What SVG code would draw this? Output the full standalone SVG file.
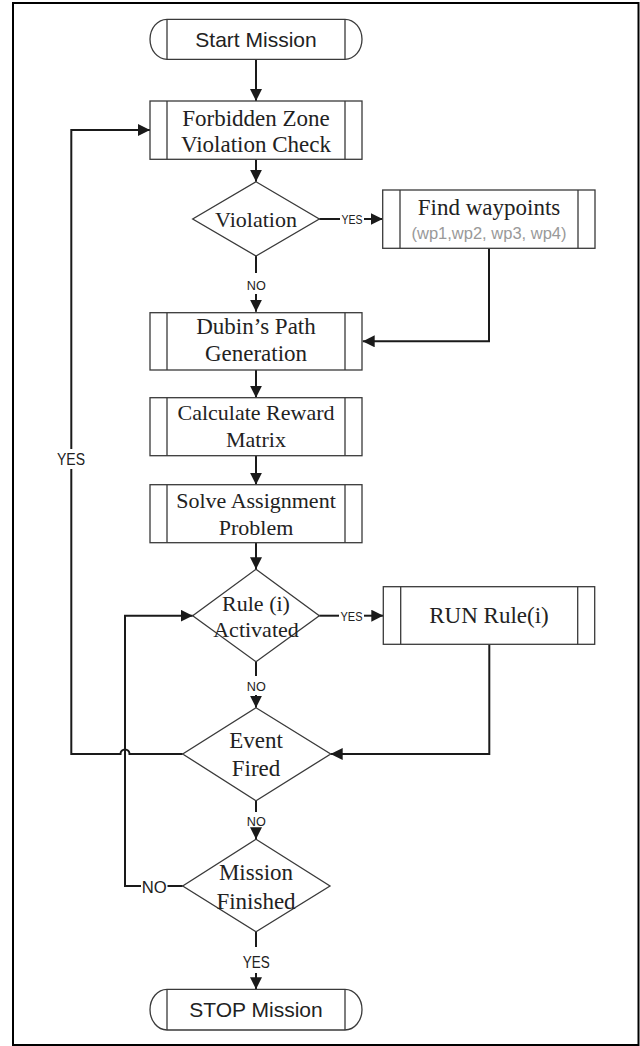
<svg xmlns="http://www.w3.org/2000/svg" width="640" height="1046" viewBox="0 0 640 1046">
<defs>
<style>
.nd{fill:#fff;stroke:#3a3a3a;stroke-width:1.3}
.il{fill:none;stroke:#3a3a3a;stroke-width:1.3}
.cn{fill:none;stroke:#1a1a1a;stroke-width:2}
.sr{font-family:"Liberation Serif","Times New Roman",serif;font-size:23px;fill:#222;text-anchor:middle}
.sr2{font-family:"Liberation Serif","Times New Roman",serif;font-size:22px;fill:#222;text-anchor:middle}
.ss{font-family:"Liberation Sans",Arial,sans-serif;font-size:21px;fill:#222;text-anchor:middle}
.gr{font-family:"Liberation Sans",Arial,sans-serif;font-size:16.5px;fill:#999;text-anchor:middle}
.lb{font-family:"Liberation Sans",Arial,sans-serif;font-size:13px;fill:#222;text-anchor:middle}
.lbb{font-family:"Liberation Sans",Arial,sans-serif;font-size:16px;fill:#222;text-anchor:middle}
</style>
<marker id="ah" viewBox="0 0 12 12" refX="12" refY="6" markerWidth="12" markerHeight="12" markerUnits="userSpaceOnUse" orient="auto">
<path d="M0,0 L12,6 L0,12 Z" fill="#1a1a1a"/>
</marker>
</defs>
<rect x="13" y="3" width="625.5" height="1042" fill="#fff" stroke="#000" stroke-width="2"/>

<g id="connectors">
<path class="cn" d="M256,59.3 V101" marker-end="url(#ah)"/>
<path class="cn" d="M256,159.3 V181.7" marker-end="url(#ah)"/>
<path class="cn" d="M319.3,219 H340"/>
<path class="cn" d="M364,219 H382.7" marker-end="url(#ah)"/>
<text class="lb" x="352" y="224" textLength="21" lengthAdjust="spacingAndGlyphs">YES</text>
<path class="cn" d="M256,256 V273"/>
<text class="lb" x="256.3" y="290" textLength="19" lengthAdjust="spacingAndGlyphs">NO</text>
<path class="cn" d="M256,294 V311.7" marker-end="url(#ah)"/>
<path class="cn" d="M489,248.3 V341.3 H362.7" marker-end="url(#ah)"/>
<path class="cn" d="M256,370 V397.7" marker-end="url(#ah)"/>
<path class="cn" d="M256,455.7 V484.7" marker-end="url(#ah)"/>
<path class="cn" d="M256,542.7 V569.3" marker-end="url(#ah)"/>
<path class="cn" d="M319.3,615.7 H339"/>
<path class="cn" d="M364,615.7 H383.3" marker-end="url(#ah)"/>
<text class="lb" x="351.5" y="620.5" textLength="22" lengthAdjust="spacingAndGlyphs">YES</text>
<path class="cn" d="M256,661.7 V676"/>
<text class="lb" x="256.3" y="691" textLength="19" lengthAdjust="spacingAndGlyphs">NO</text>
<path class="cn" d="M256,695 V707.7" marker-end="url(#ah)"/>
<path class="cn" d="M489.3,644.3 V754 H330.7" marker-end="url(#ah)"/>
<path class="cn" d="M182.7,754 H129.5 A4.5,4.5 0 0 0 120.5,754 H71.3 V469"/>
<text class="lbb" x="71" y="465" textLength="28" lengthAdjust="spacingAndGlyphs">YES</text>
<path class="cn" d="M71.3,449 V130 H150" marker-end="url(#ah)"/>
<path class="cn" d="M256,800.7 V812"/>
<text class="lb" x="256.3" y="826" textLength="19" lengthAdjust="spacingAndGlyphs">NO</text>
<path class="cn" d="M256,829.5 V839.3" marker-end="url(#ah)"/>
<path class="cn" d="M182.7,886 H167.5"/>
<text class="lbb" x="154.2" y="892.5" textLength="25" lengthAdjust="spacingAndGlyphs">NO</text>
<path class="cn" d="M141,886 H125 V615.7 H192.7" marker-end="url(#ah)"/>
<path class="cn" d="M256,931.7 V947"/>
<text class="lbb" x="256.3" y="968" textLength="27" lengthAdjust="spacingAndGlyphs">YES</text>
<path class="cn" d="M256,973 V989.3" marker-end="url(#ah)"/>
</g>

<g id="start">
<path class="nd" d="M167,19.3 H345 A17,20 0 0 1 345,59.3 H167 A17,20 0 0 1 167,19.3 Z"/>
<path class="il" d="M167,19.3 V59.3 M345,19.3 V59.3"/>
<text class="ss" x="256" y="47">Start Mission</text>
</g>

<g id="forbidden">
<rect class="nd" x="150" y="101" width="212" height="58.3"/>
<path class="il" d="M167,101 V159.3 M345,101 V159.3"/>
<text class="sr" x="256" y="126">Forbidden Zone</text>
<text class="sr" x="256" y="152">Violation Check</text>
</g>

<g id="violation">
<path class="nd" d="M256,181.7 L319.3,219 L256,256 L192.7,219 Z"/>
<text class="sr2" x="256" y="227">Violation</text>
</g>

<g id="findwp">
<rect class="nd" x="382.7" y="190" width="212.3" height="58.3"/>
<path class="il" d="M400,190 V248.3 M578,190 V248.3"/>
<text class="sr" x="489" y="215">Find waypoints</text>
<text class="gr" x="489" y="239">(wp1,wp2, wp3, wp4)</text>
</g>

<g id="dubin">
<rect class="nd" x="150" y="312.7" width="212" height="57.3"/>
<path class="il" d="M167,312.7 V370 M345,312.7 V370"/>
<text class="sr" x="256" y="334">Dubin’s Path</text>
<text class="sr" x="256" y="361">Generation</text>
</g>

<g id="reward">
<rect class="nd" x="150" y="397.7" width="212" height="58"/>
<path class="il" d="M167,397.7 V455.7 M345,397.7 V455.7"/>
<text class="sr2" x="256" y="420">Calculate Reward</text>
<text class="sr2" x="256" y="447">Matrix</text>
</g>

<g id="assign">
<rect class="nd" x="150" y="484.7" width="212" height="58"/>
<path class="il" d="M167,484.7 V542.7 M345,484.7 V542.7"/>
<text class="sr2" x="256" y="508">Solve Assignment</text>
<text class="sr2" x="256" y="535">Problem</text>
</g>

<g id="rule">
<path class="nd" d="M256,569.3 L319.3,615.7 L256,661.7 L192.7,615.7 Z"/>
<text class="sr2" x="256" y="611">Rule (i)</text>
<text class="sr2" x="256" y="637">Activated</text>
</g>

<g id="runrule">
<rect class="nd" x="383.3" y="586.7" width="211.4" height="57.6"/>
<path class="il" d="M400.7,586.7 V644.3 M577.7,586.7 V644.3"/>
<text class="sr" x="489" y="623">RUN Rule(i)</text>
</g>

<g id="event">
<path class="nd" d="M256,707.7 L330.7,754 L256,800.7 L182.7,754 Z"/>
<text class="sr" x="256" y="748">Event</text>
<text class="sr" x="256" y="776">Fired</text>
</g>

<g id="finished">
<path class="nd" d="M256,839.3 L330,886 L256,931.7 L182.7,886 Z"/>
<text class="sr" x="256" y="880">Mission</text>
<text class="sr" x="256" y="909">Finished</text>
</g>

<g id="stop">
<path class="nd" d="M167,989.3 H345 A17,20.35 0 0 1 345,1030 H167 A17,20.35 0 0 1 167,989.3 Z"/>
<path class="il" d="M167,989.3 V1030 M345,989.3 V1030"/>
<text class="ss" x="256" y="1017">STOP Mission</text>
</g>
</svg>
